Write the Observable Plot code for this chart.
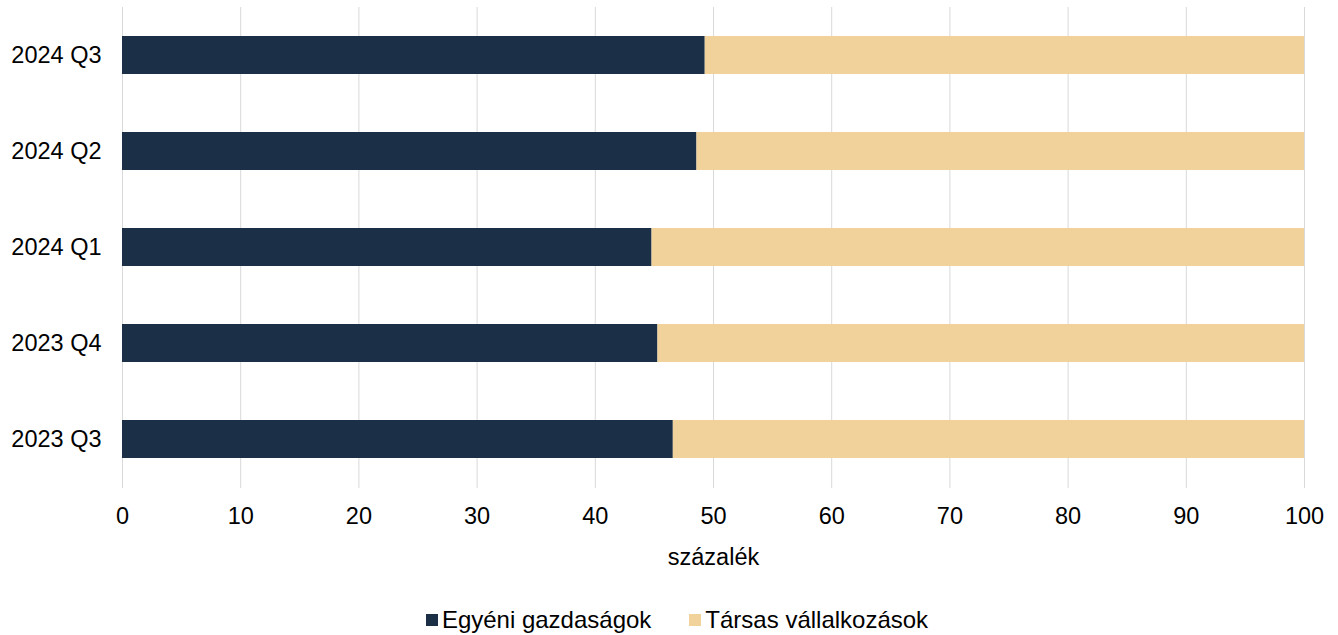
<!DOCTYPE html>
<html>
<head>
<meta charset="utf-8">
<script src="https://cdn.jsdelivr.net/npm/d3@7"></script>
<script src="https://cdn.jsdelivr.net/npm/@observablehq/plot@0.6"></script>
<style>
  html, body { margin: 0; padding: 0; background: #fff; }
  body { width: 1338px; height: 635px; overflow: hidden; font-family: "Liberation Sans", Arial, sans-serif; }
  #chart svg { display: block; }
  #legend { display: flex; justify-content: center; align-items: center; gap: 38px; height: 40px; margin-top: 25px; font-size: 24px; color: #000; margin-left: 16px; }
  #legend .item { display: flex; align-items: center; gap: 4px; }
  #legend .sw { width: 12px; height: 12px; display: inline-block; }
</style>
</head>
<body>
<div id="chart"></div>
<div id="legend"></div>
<script>
const categories = ["2024 Q3", "2024 Q2", "2024 Q1", "2023 Q4", "2023 Q3"];
const seriesNames = ["Egyéni gazdaságok", "Társas vállalkozások"];
const egyeni = [49.3, 48.6, 44.8, 45.3, 46.6];
const tarsas = [50.7, 51.4, 55.2, 54.7, 53.4];
const colors = ["#1b3046", "#f1d29b"];
const xTicks = [0, 10, 20, 30, 40, 50, 60, 70, 80, 90, 100];

const data = [];
categories.forEach((c, i) => {
  data.push({cat: c, series: seriesNames[0], value: egyeni[i]});
  data.push({cat: c, series: seriesNames[1], value: tarsas[i]});
});

const chart = Plot.plot({
  width: 1338,
  height: 575,
  marginLeft: 122,
  marginRight: 34,
  marginTop: 7,
  marginBottom: 87,
  style: {fontFamily: "'Liberation Sans', Arial, sans-serif", fontSize: "23.5px", color: "#000", background: "#fff"},
  x: {domain: [0, 100], ticks: xTicks},
  y: {domain: categories, paddingInner: 0.6, paddingOuter: 0.3},
  color: {domain: seriesNames, range: colors},
  marks: [
    Plot.gridX(xTicks, {stroke: "#d9d9d9", strokeOpacity: 1, strokeWidth: 1}),
    Plot.barX(data, Plot.stackX({x: "value", y: "cat", fill: "series", order: seriesNames})),
    Plot.axisX({ticks: xTicks, tickSize: 0, tickPadding: 19, label: "százalék", labelAnchor: "center", labelOffset: 76, labelArrow: "none", fontSize: 23.5}),
    Plot.axisY({tickSize: 0, tickPadding: 21, label: null, fontSize: 23.5})
  ]
});
document.getElementById("chart").appendChild(chart);

const legend = document.getElementById("legend");
seriesNames.forEach((s, i) => {
  const it = document.createElement("div");
  it.className = "item";
  const sw = document.createElement("span");
  sw.className = "sw";
  sw.style.background = colors[i];
  const t = document.createElement("span");
  t.textContent = s;
  it.appendChild(sw);
  it.appendChild(t);
  legend.appendChild(it);
});
</script>
</body>
</html>
